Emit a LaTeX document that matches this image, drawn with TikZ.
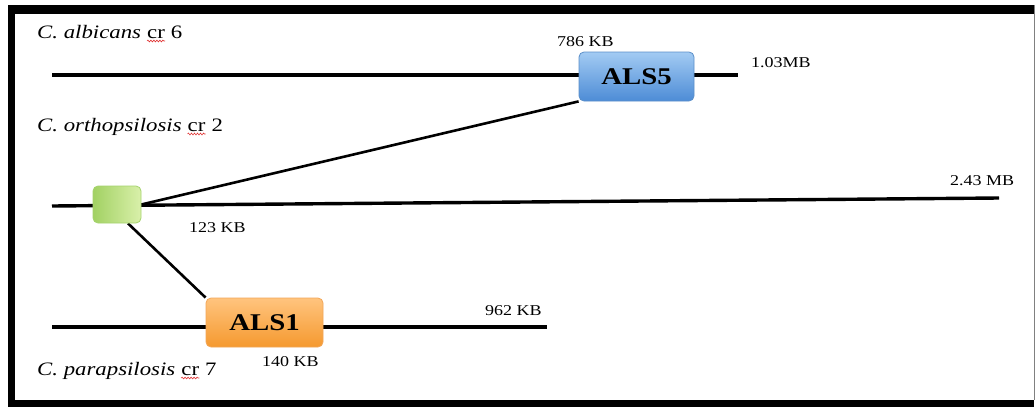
\documentclass[tikz,border=0pt]{standalone}
\usepackage{fontspec}
\setmainfont{Liberation Serif}
\usepackage{graphicx}
\usetikzlibrary{calc,decorations.pathmorphing}

% text is set a little wider than the font's natural width
\newcommand\wide[1]{\scalebox{1.2}[1]{#1}}

\definecolor{spellred}{HTML}{E03030}
\definecolor{blueTop}{HTML}{A3CBF3}
\definecolor{blueBot}{HTML}{4D8CD6}
\definecolor{blueEdge}{HTML}{5B8FC9}
\definecolor{orangeTop}{HTML}{FFC47E}
\definecolor{orangeBot}{HTML}{F5992F}
\definecolor{orangeEdge}{HTML}{F2A658}
\definecolor{greenL}{HTML}{A2D163}
\definecolor{greenR}{HTML}{D9F0AA}
\definecolor{greenEdge}{HTML}{A5D36E}

\pgfdeclarelayer{frame}
\pgfdeclarelayer{back}
\pgfsetlayers{frame,back,main}

\tikzset{
  chrom/.style={line width=3.4pt},
  link/.style={line width=2.6pt},
  title/.style={anchor=base west, inner sep=0pt, font=\fontsize{19}{19}\selectfont},
  size/.style={anchor=base west, inner sep=0pt, font=\fontsize{15}{15}\selectfont},
  gene/.style={rounded corners=5pt, minimum height=49pt, inner sep=0pt, line width=0.8pt,
               font=\bfseries\fontsize{24}{24}\selectfont},
  spell/.style={spellred, line width=0.6pt,
                decorate, decoration={snake, amplitude=0.9pt, segment length=3pt}},
}

\begin{document}
\begin{tikzpicture}[x=1pt, y=-1pt]
\useasboundingbox (0,0) rectangle (1036,407);

% frame
\begin{pgfonlayer}{frame}
  \fill[black] (8,5) rectangle (1034,407);
  \fill[white] (15,14) rectangle (1034,400);
  \draw[gray, line width=1pt] (1034.5,5) -- (1034.5,400);
\end{pgfonlayer}

% species labels: name, chromosome word, chromosome number
\node[title] (tA) at (37,38) {\wide{\textit{C. albicans}}};
\node[title] (tAc) at ($(tA.base east)+(5.7,0)$) {\wide{cr}};
\node[title] (tAn) at ($(tAc.base east)+(5.7,0)$) {\wide{6}};
\node[title] (tO) at (37,131) {\wide{\textit{C. orthopsilosis}}};
\node[title] (tOc) at ($(tO.base east)+(5.7,0)$) {\wide{cr}};
\node[title] (tOn) at ($(tOc.base east)+(5.7,0)$) {\wide{2}};
\node[title] (tP) at (37,375) {\wide{\textit{C. parapsilosis}}};
\node[title] (tPc) at ($(tP.base east)+(5.7,0)$) {\wide{cr}};
\node[title] (tPn) at ($(tPc.base east)+(5.7,0)$) {\wide{7}};
\foreach \w in {tAc,tOc,tPc}
  \draw[spell] ($(\w.base west)+(0,3)$) -- ($(\w.base east)+(0,3)$);

% genes
\node[gene, minimum width=115pt, top color=blueTop, bottom color=blueBot, draw=blueEdge]
  (als5) at (636.5,76.5) {\wide{ALS5}};
\node[gene, minimum width=117pt, top color=orangeTop, bottom color=orangeBot, draw=orangeEdge]
  (als1) at (264.5,322.5) {\wide{ALS1}};
\node[rounded corners=5pt, minimum width=48pt, minimum height=37pt, inner sep=0pt, line width=0.8pt,
      left color=greenL, right color=greenR, draw=greenEdge]
  (orth) at (117,204.5) {};

% chromosome ends
\coordinate (aL) at (52,75);
\coordinate (aR) at (738,75);
\coordinate (oL) at (52,206);
\coordinate (oR) at (999,198);
\coordinate (pL) at (52,327);
\coordinate (pR) at (547,327);

\begin{pgfonlayer}{back}
  \draw[chrom] (aL) -- (aR);
  \draw[chrom] (oL) -- (oR);
  \draw[chrom] (pL) -- (pR);
  \draw[link] (orth.east) -- (als5.south west);
  \draw[link] ($(orth.south)!0.45!(orth.south east)$) -- (als1.north west);
\end{pgfonlayer}

% positions and lengths
\node[size] (s786) at (557,46)  {\wide{786 KB}};
\node[size] (s103) at (751,67)  {\wide{1.03MB}};
\node[size] (s123) at (189,232) {\wide{123 KB}};
\node[size] (s243) at (950,185) {\wide{2.43 MB}};
\node[size] (s962) at (485,315) {\wide{962 KB}};
\node[size] (s140) at (262,366) {\wide{140 KB}};
\end{tikzpicture}
\end{document}
